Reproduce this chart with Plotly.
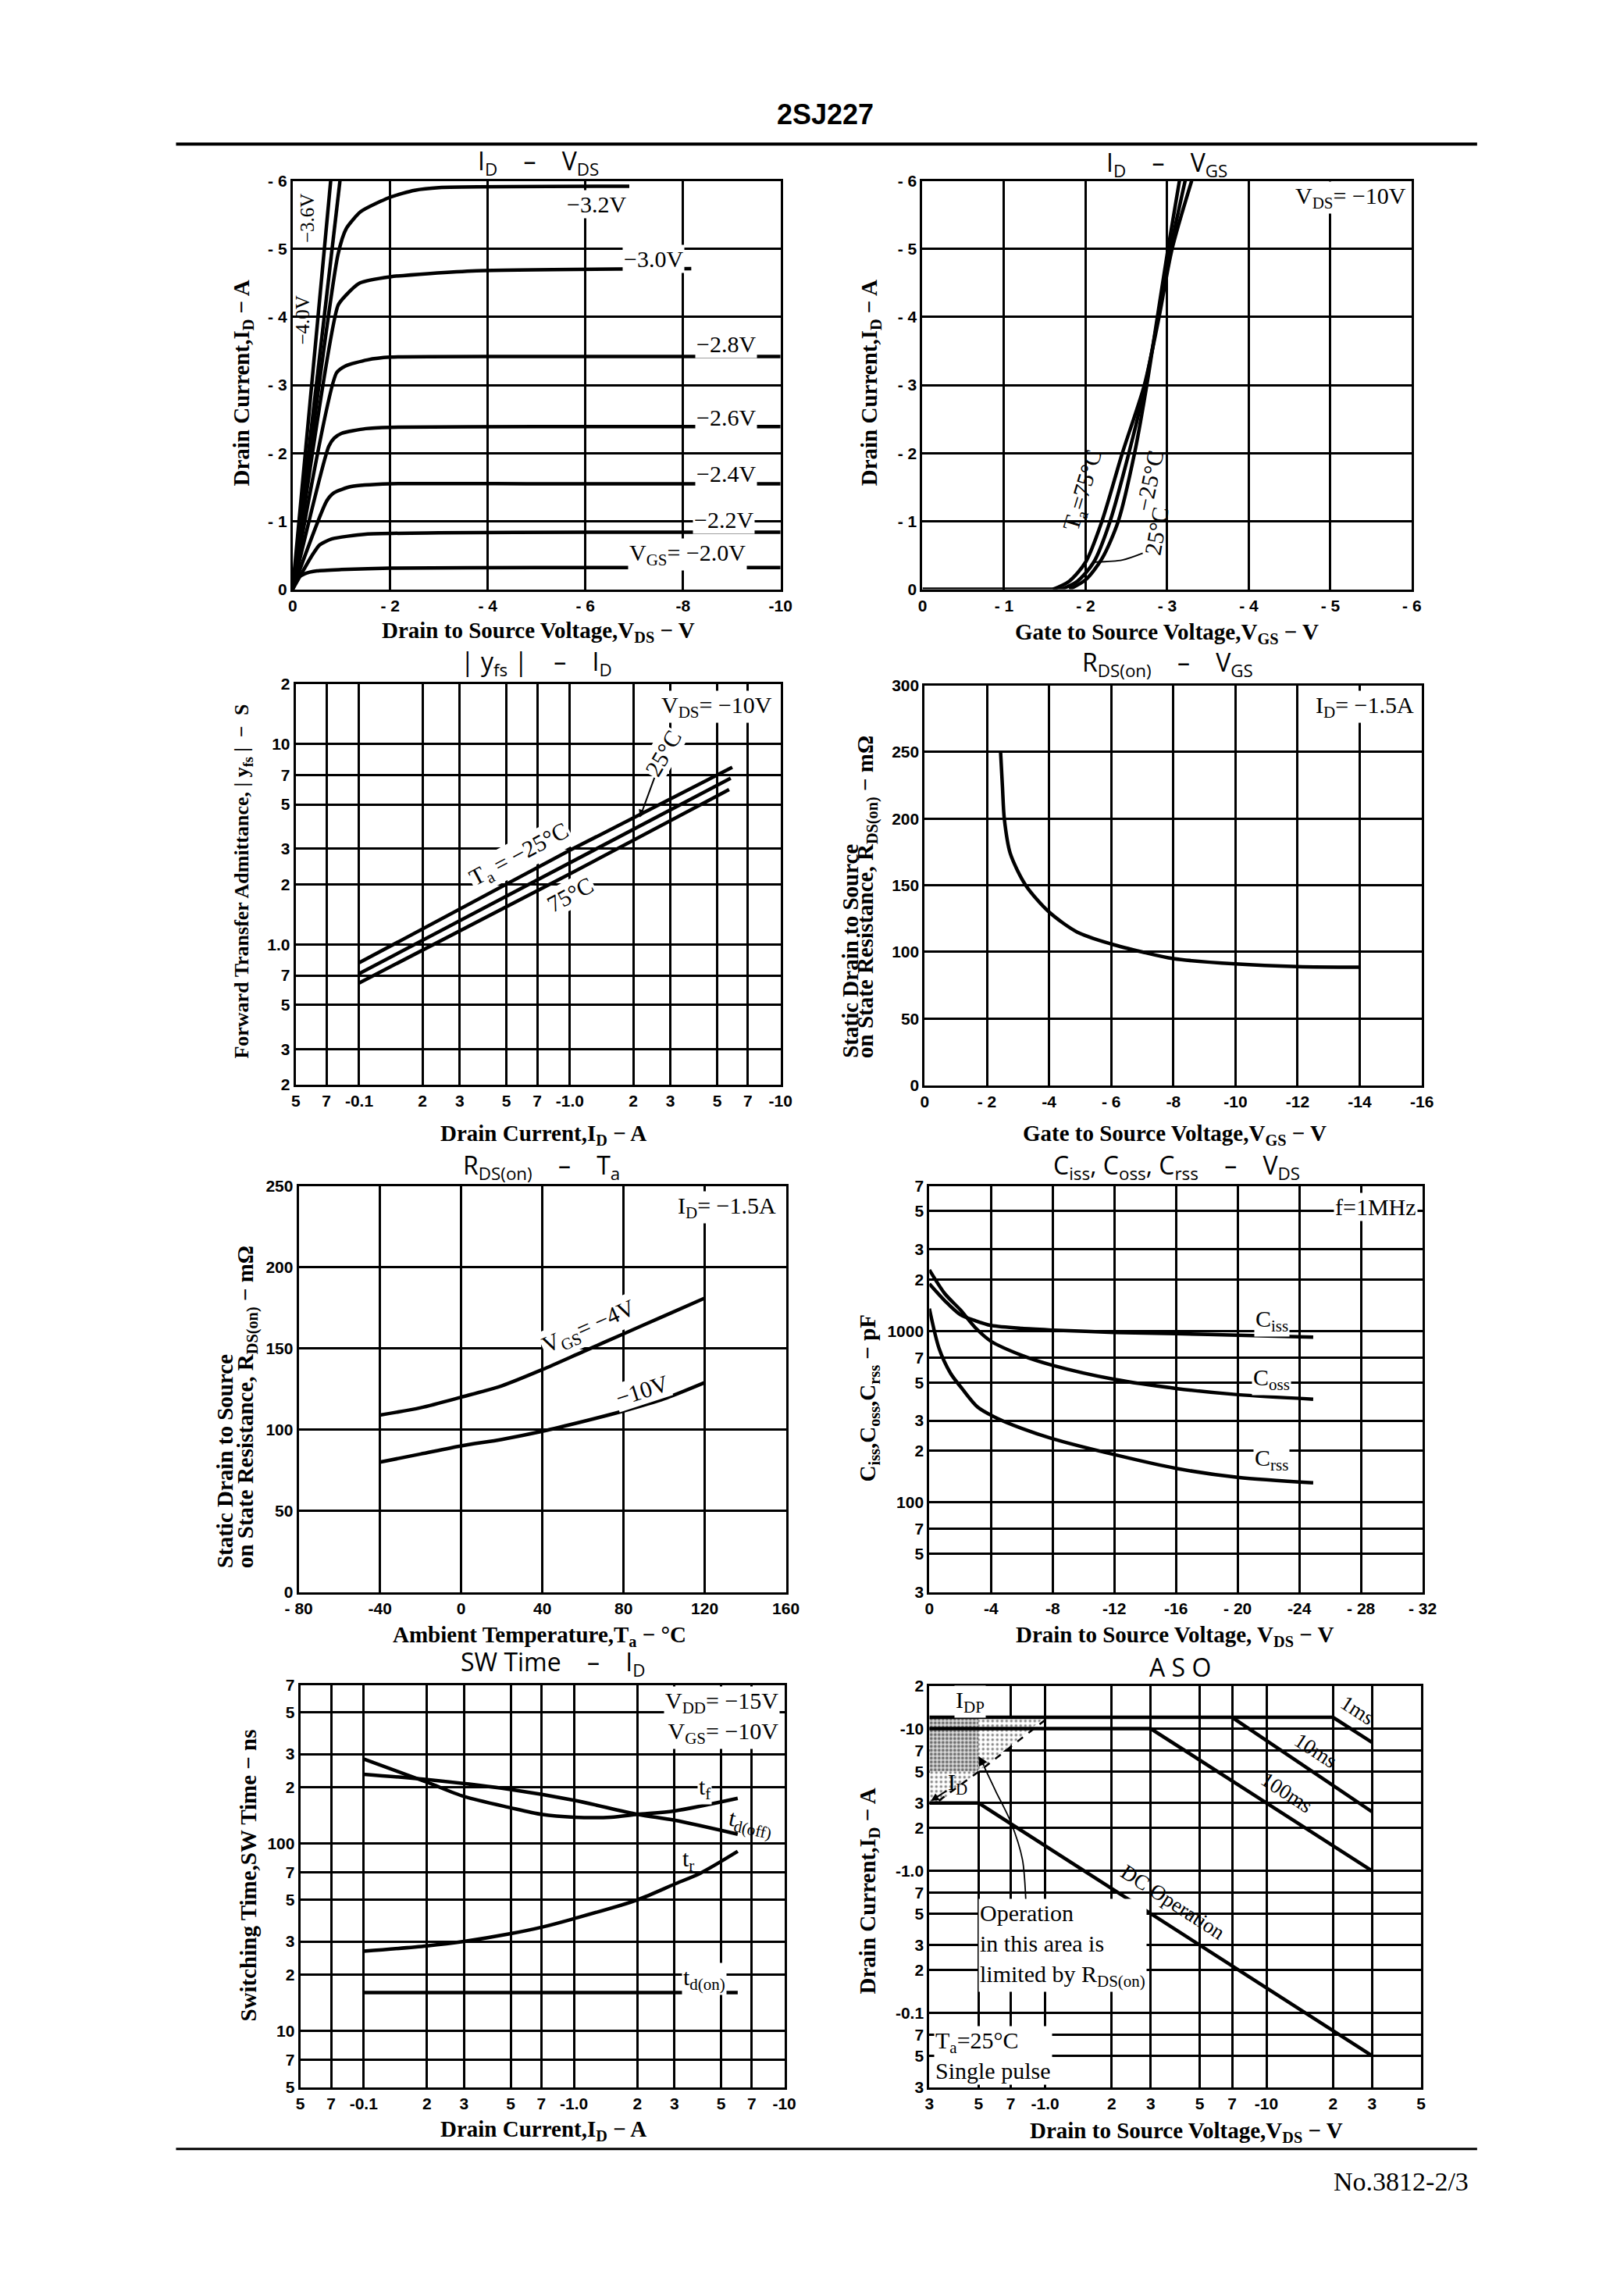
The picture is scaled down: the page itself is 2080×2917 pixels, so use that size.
import math
import plotly.graph_objects as go

W, H = 2080, 2917
OFF = 8                      # default <body> margin of the html page
FW, FH = W - 2 * OFF, H - 2 * OFF
SERIF = "Liberation Serif, DejaVu Serif, serif"
SANS = "Liberation Sans Narrow, Liberation Sans, Arial, sans-serif"
TSANS = "Open Sans, Liberation Sans, sans-serif"

# ================= DATA =================
# Panel 1 : ID - VDS  (x: VDS [V], y: ID [A])
p1_x_20 = [0, -0.12, -0.25, -0.5, -1.0, -2.0, -5.0, -10.0]
p1_y_20 = [0, -0.17, -0.23, -0.27, -0.29, -0.31, -0.32, -0.32]
p1_x_22 = [0, -0.4, -0.55, -0.8, -1.5, -3.0, -6.0, -10.0]
p1_y_22 = [0, -0.5, -0.65, -0.74, -0.81, -0.83, -0.84, -0.84]
p1_x_24 = [0, -0.7, -0.85, -1.2, -2.0, -5.0, -10.0]
p1_y_24 = [0, -1.3, -1.42, -1.51, -1.55, -1.55, -1.55]
p1_x_26 = [0, -0.74, -0.85, -1.0, -1.5, -2.0, -5.0, -10.0]
p1_y_26 = [0, -2.1, -2.22, -2.29, -2.36, -2.38, -2.39, -2.39]
p1_x_28 = [0, -0.9, -1.08, -1.53, -2.0, -5.0, -10.0]
p1_y_28 = [0, -3.18, -3.28, -3.37, -3.41, -3.42, -3.42]
p1_x_30 = [0, -0.93, -1.08, -1.38, -2.0, -3.77, -8.17]
p1_y_30 = [0, -4.17, -4.31, -4.5, -4.59, -4.68, -4.71]
p1_x_32 = [0, -0.93, -1.1, -1.4, -2.0, -2.5, -3.0, -6.9]
p1_y_32 = [0, -4.92, -5.3, -5.55, -5.76, -5.86, -5.9, -5.92]
p1_x_36 = [0, -0.97]
p1_y_36 = [0, -6.0]
p1_x_40 = [0, -0.78]
p1_y_40 = [0, -6.0]
p1_xticks = [0, -2, -4, -6, -8, -10]
p1_xtext = ["0", "- 2", "- 4", "- 6", "-8", "-10"]
p1_yticks = [0, -1, -2, -3, -4, -5, -6]
p1_ytext = ["0", "- 1", "- 2", "- 3", "- 4", "- 5", "- 6"]

# Panel 2 : ID - VGS (VDS=-10V)
p2_x_75 = [-1.6, -1.8, -2.0, -2.2, -2.45, -2.72, -2.9, -3.06, -3.3]
p2_y_75 = [0, -0.12, -0.4, -1.0, -2.0, -3.0, -4.0, -5.0, -6.0]
p2_x_25 = [-1.7, -1.9, -2.1, -2.3, -2.53, -2.73, -2.89, -3.04, -3.22]
p2_y_25 = [0, -0.12, -0.4, -1.0, -2.0, -3.0, -4.0, -5.0, -6.0]
p2_x_m25 = [-1.8, -2.0, -2.2, -2.4, -2.6, -2.75, -2.88, -3.01, -3.15]
p2_y_m25 = [0, -0.14, -0.45, -1.0, -2.0, -3.0, -4.0, -5.0, -6.0]
p2_x_base = [0, -1.7]
p2_y_base = [0, 0]
p2_xticks = [0, -1, -2, -3, -4, -5, -6]
p2_xtext = ["0", "- 1", "- 2", "- 3", "- 4", "- 5", "- 6"]
p2_yticks = [0, -1, -2, -3, -4, -5, -6]
p2_ytext = ["0", "- 1", "- 2", "- 3", "- 4", "- 5", "- 6"]

# Panel 3 : |yfs| - ID  (ID magnitude [A], |yfs| [S])
p3_id_m25 = [0.1, 1.0, 5.9]
p3_y_m25 = [0.81, 2.95, 7.66]
p3_id_25 = [0.1, 1.0, 5.8]
p3_y_25 = [0.715, 2.55, 6.76]
p3_id_75 = [0.1, 1.0, 5.7]
p3_y_75 = [0.642, 2.25, 5.93]
p3_xticks = [0.05, 0.07, 0.1, 0.2, 0.3, 0.5, 0.7, 1, 2, 3, 5, 7, 10]
p3_xtext = ["5", "7", "-0.1", "2", "3", "5", "7", "-1.0", "2", "3", "5", "7", "-10"]
p3_yticks = [0.2, 0.3, 0.5, 0.7, 1, 2, 3, 5, 7, 10, 20]
p3_ytext = ["2", "3", "5", "7", "1.0", "2", "3", "5", "7", "10", "2"]

# Panel 4 : RDS(on) - VGS (ID=-1.5A)
p4_vgs = [-2.44, -2.5, -2.56, -2.75, -3.25, -4.0, -4.9, -6.0, -7.0, -8.0, -10.0, -12.0, -14.0]
p4_r = [250, 224, 200, 174, 150, 130, 115, 106, 100, 95, 91, 89, 88.5]
p4_xticks = [0, -2, -4, -6, -8, -10, -12, -14, -16]
p4_xtext = ["0", "- 2", "-4", "- 6", "-8", "-10", "-12", "-14", "-16"]
p4_yticks = [0, 50, 100, 150, 200, 250, 300]
p4_ytext = ["0", "50", "100", "150", "200", "250", "300"]

# Panel 5 : RDS(on) - Ta
p5_ta = [-40, -20, 0, 20, 40, 60, 80, 100, 120]
p5_r_4v = [109, 113.5, 120, 127, 137, 148, 159, 170, 181]
p5_r_10v = [80, 85, 90, 94, 99, 105, 111.5, 119, 129]
p5_xticks = [-80, -40, 0, 40, 80, 120, 160]
p5_xtext = ["- 80", "-40", "0", "40", "80", "120", "160"]
p5_yticks = [0, 50, 100, 150, 200, 250]
p5_ytext = ["0", "50", "100", "150", "200", "250"]

# Panel 6 : Ciss, Coss, Crss - VDS (f=1MHz)
p6_vds = [0, -1, -2, -3, -4, -6, -8, -12, -16, -20, -24.9]
p6_ciss = [1880, 1500, 1245, 1146, 1077, 1034, 1012, 980, 963, 944, 920]
p6_coss = [2270, 1650, 1330, 1040, 870, 720, 630, 522, 462, 425, 400]
p6_vds_r = [0, -0.63, -1.38, -2.13, -3.13, -4.38, -6, -8, -12, -16, -20, -24.9]
p6_crss = [1350, 790, 565, 460, 360, 310, 270, 235, 190, 158, 140, 130]
p6_xticks = [0, -4, -8, -12, -16, -20, -24, -28, -32]
p6_xtext = ["0", "-4", "-8", "-12", "-16", "- 20", "-24", "- 28", "- 32"]
p6_yticks = [30, 50, 70, 100, 200, 300, 500, 700, 1000, 2000, 3000, 5000, 7000]
p6_ytext = ["3", "5", "7", "100", "2", "3", "5", "7", "1000", "2", "3", "5", "7"]

# Panel 7 : SW Time - ID
p7_id_tf = [0.1, 0.2, 0.3, 0.5, 0.7, 1.0, 1.5, 2.0, 3.0, 6.0]
p7_tf = [282, 212, 178, 155, 143, 138, 138, 143, 149, 174]
p7_id_toff = [0.1, 0.2, 0.5, 1.0, 2.0, 3.0, 6.0]
p7_toff = [234, 219, 194, 170, 143, 133, 112]
p7_id_tr = [0.1, 0.2, 0.3, 0.5, 0.7, 1.0, 2.0, 3.0, 4.0, 6.0]
p7_tr = [26.6, 28.4, 30, 33, 35.7, 39.7, 50, 60.6, 69.5, 90.7]
p7_id_ton = [0.1, 6.0]
p7_ton = [16, 16]
p7_xticks = p3_xticks
p7_xtext = p3_xtext
p7_yticks = [5, 7, 10, 20, 30, 50, 70, 100, 200, 300, 500, 700]
p7_ytext = ["5", "7", "10", "2", "3", "5", "7", "100", "2", "3", "5", "7"]

# Panel 8 : ASO (VDS magnitude [V], ID magnitude [A])
p8_v_1ms = [0.3, 20, 30]
p8_i_1ms = [12, 12, 8]
p8_v_10ms = [7, 30]
p8_i_10ms = [12, 2.6]
p8_v_100ms = [0.3, 3, 30]
p8_i_100ms = [10, 10, 1.0]
p8_v_dc = [0.3, 0.5, 30]
p8_i_dc = [3, 3, 0.05]
p8_v_shade = [0.3, 0.3, 1.0, 0.5, 0.33, 0.3]
p8_i_shade = [3, 12, 12, 5, 3, 3]
p8_v_dark = [0.3, 0.3, 0.5, 0.5, 0.3]
p8_i_dark = [5, 12, 12, 5, 5]
p8_v_rds = [1.0, 0.52, 0.33]
p8_i_rds = [11.5, 5.2, 3.1]
p8_v_ptr = [0.82, 0.79, 0.7, 0.6, 0.53]
p8_i_ptr = [0.57, 1.2, 2.2, 3.6, 5.4]
p8_xticks = [0.3, 0.5, 0.7, 1, 2, 3, 5, 7, 10, 20, 30, 50]
p8_xtext = ["3", "5", "7", "-1.0", "2", "3", "5", "7", "-10", "2", "3", "5"]
p8_yticks = [0.03, 0.05, 0.07, 0.1, 0.2, 0.3, 0.5, 0.7, 1, 2, 3, 5, 7, 10, 20]
p8_ytext = ["3", "5", "7", "-0.1", "2", "3", "5", "7", "-1.0", "2", "3", "5", "7", "-10", "2"]

# ================= LAYOUT HELPERS =================
DXL, DXR = -7, 3   # column offsets (left / right column)
# plot frames in page pixels: left, right, top, bottom
FR = {1: (370 + DXL, 1006 + DXL, 231, 754), 2: (1181 + DXR, 1819 + DXR, 231, 754),
      3: (374 + DXL, 1006 + DXL, 875, 1388), 4: (1184 + DXR, 1832 + DXR, 877, 1389),
      5: (378 + DXL, 1013 + DXL, 1518, 2038), 6: (1190 + DXR, 1833 + DXR, 1518, 2038),
      7: (380 + DXL, 1011 + DXL, 2157, 2672), 8: (1190 + DXR, 1831 + DXR, 2158, 2672)}


def PX(px):
    return (px - OFF) / FW


def PY(py):
    page = (py - 11.5) / 0.992
    return 1 - (page - OFF) / FH


L = math.log10
fig = go.Figure()
layout = dict(width=FW, height=FH, margin=dict(l=0, r=0, t=0, b=0),
              paper_bgcolor="white", plot_bgcolor="white", showlegend=False,
              font=dict(color="black"))
TICKFONT = dict(family=SANS, size=21, color="black", weight="bold")
LBL = 30        # curve-label size
AT = 29         # axis-title size
TT = 32         # panel-title size
NB = "\u00a0"
SEP = NB * 4 + "\u2013" + NB * 4


def axes(i, xr, yr, xt, xtt, yt, ytt, xtype="linear", ytype="linear"):
    x0, x1, y0, y1 = FR[i]
    sfx = "" if i == 1 else str(i)
    common = dict(showgrid=True, gridcolor="black", gridwidth=2.5, showline=True,
                  linecolor="black", linewidth=3, mirror=True, ticks="",
                  zeroline=False, tickfont=TICKFONT, fixedrange=True,
                  tickmode="array")
    layout["xaxis" + sfx] = dict(domain=[PX(x0), PX(x1)], anchor="y" + sfx,
                                 range=xr, type=xtype, tickvals=xt, ticktext=xtt, **common)
    layout["yaxis" + sfx] = dict(domain=[PY(y1), PY(y0)], anchor="x" + sfx,
                                 range=yr, type=ytype, tickvals=yt, ticktext=ytt, **common)


def line(i, x, y, w=4.5, shape="spline", dash="solid", smoothing=0.8):
    sfx = "" if i == 1 else str(i)
    fig.add_trace(go.Scatter(x=x, y=y, mode="lines", xaxis="x" + sfx, yaxis="y" + sfx,
                             line=dict(color="black", width=w, shape=shape, dash=dash,
                                       smoothing=smoothing if shape == "spline" else None),
                             hoverinfo="skip"))


anns = []


def ann(i, text, x, y, size=LBL, family=SERIF, angle=0, xa="center", ya="middle",
        bg=None, align="center", weight="normal"):
    sfx = "" if i == 1 else str(i)
    d = dict(text=text, x=x, y=y, xref="x" + sfx, yref="y" + sfx, showarrow=False,
             textangle=angle, xanchor=xa, yanchor=ya, align=align, borderpad=1,
             font=dict(family=family, size=size, color="black", weight=weight))
    if bg:
        d["bgcolor"] = bg
    anns.append(d)


def pann(text, px, py, size=AT, family=SERIF, angle=0, xa="center", ya="middle",
         weight="bold", align="center"):
    anns.append(dict(text=text, x=PX(px), y=PY(py), xref="paper", yref="paper",
                     showarrow=False, textangle=angle, xanchor=xa, yanchor=ya, align=align,
                     font=dict(family=family, size=size, color="black", weight=weight)))


# ---------- Panel 1 ----------
axes(1, [0, -10], [0, -6], p1_xticks, p1_xtext, p1_yticks, p1_ytext)
for xs, ys in [(p1_x_20, p1_y_20), (p1_x_22, p1_y_22), (p1_x_24, p1_y_24),
               (p1_x_26, p1_y_26), (p1_x_28, p1_y_28), (p1_x_30, p1_y_30),
               (p1_x_32, p1_y_32)]:
    line(1, xs, ys, smoothing=0.6)
line(1, p1_x_36, p1_y_36, shape="linear")
line(1, p1_x_40, p1_y_40, shape="linear")
ann(1, "\u22123.2V", -6.23, -5.66, bg="white")
ann(1, "\u22123.0V", -7.39, -4.85, bg="white")
ann(1, "\u22122.8V", -8.88, -3.6, bg="white")
ann(1, "\u22122.6V", -8.88, -2.53, bg="white")
ann(1, "\u22122.4V", -8.88, -1.70, bg="white")
ann(1, "\u22122.2V", -8.84, -1.02, bg="white")
ann(1, "V<sub>GS</sub>= \u22122.0V", -8.1, -0.51, bg="white")
ann(1, "\u22123.6V", -0.3, -5.45, angle=-90, size=25)
ann(1, "\u22124.0V", -0.2, -3.95, angle=-90, size=25)

# ---------- Panel 2 ----------
axes(2, [0, -6], [0, -6], p2_xticks, p2_xtext, p2_yticks, p2_ytext)
line(2, p2_x_base, p2_y_base, shape="linear")
line(2, p2_x_75, p2_y_75)
line(2, p2_x_25, p2_y_25)
line(2, p2_x_m25, p2_y_m25)
line(2, [-2.12, -2.45, -2.7], [-0.4, -0.43, -0.53], w=2)
ann(2, "V<sub>DS</sub>= \u221210V", -5.95, -5.75, xa="right", bg="white")
ann(2, "T<sub>a</sub>=75\u00b0C", -1.98, -1.45, angle=-73)
ann(2, "\u221225\u00b0C", -2.78, -1.6, angle=-78)
ann(2, "25\u00b0C", -2.87, -0.86, angle=-80)

# ---------- Panel 3 ----------
axes(3, [L(0.05), L(10)], [L(0.2), L(20)], p3_xticks, p3_xtext, p3_yticks, p3_ytext,
     "log", "log")
line(3, p3_id_m25, p3_y_m25, shape="linear")
line(3, p3_id_25, p3_y_25, shape="linear")
line(3, p3_id_75, p3_y_75, shape="linear")
ann(3, "V<sub>DS</sub>= \u221210V", L(9.3), L(15.4), xa="right", bg="white")
ann(3, "T<sub>a</sub> = \u221225\u00b0C", L(0.58), L(2.8), angle=-28, bg="white")
ann(3, "75\u00b0C", L(1.0), L(1.78), angle=-28, bg="white")
anns.append(dict(text="25\u00b0C", x=L(2.15), y=L(4.3), xref="x3", yref="y3",
                 showarrow=True, arrowhead=2, arrowsize=1, arrowwidth=2, arrowcolor="black",
                 ax=30, ay=-82, textangle=-60, bgcolor="white",
                 font=dict(family=SERIF, size=LBL, color="black")))

# ---------- Panel 4 ----------
axes(4, [0, -16], [0, 300], p4_xticks, p4_xtext, p4_yticks, p4_ytext)
line(4, p4_vgs, p4_r)
ann(4, "I<sub>D</sub>= \u22121.5A", -15.8, 284, xa="right", bg="white")

# ---------- Panel 5 ----------
axes(5, [-80, 160], [0, 250], p5_xticks, p5_xtext, p5_yticks, p5_ytext)
line(5, p5_ta, p5_r_4v)
line(5, p5_ta, p5_r_10v)
ann(5, "I<sub>D</sub>= \u22121.5A", 156, 237, xa="right", bg="white")
ann(5, "V<sub>GS</sub>= \u22124V", 63, 163, angle=-24, bg="white")
ann(5, "\u221210V", 89, 124, angle=-18, bg="white")

# ---------- Panel 6 ----------
axes(6, [0, -32], [L(30), L(7000)], p6_xticks, p6_xtext, p6_yticks, p6_ytext,
     "linear", "log")
line(6, p6_vds, p6_ciss)
line(6, p6_vds, p6_coss)
line(6, p6_vds_r, p6_crss)
ann(6, "f=1MHz", -31.7, L(5300), xa="right", bg="white")
ann(6, "C<sub>iss</sub>", -22.2, L(1150), bg="white")
ann(6, "C<sub>oss</sub>", -22.2, L(525), bg="white")
ann(6, "C<sub>rss</sub>", -22.2, L(178), bg="white")

# ---------- Panel 7 ----------
axes(7, [L(0.05), L(10)], [L(5), L(700)], p7_xticks, p7_xtext, p7_yticks, p7_ytext,
     "log", "log")
line(7, p7_id_tf, p7_tf)
line(7, p7_id_toff, p7_toff)
line(7, p7_id_tr, p7_tr)
line(7, p7_id_ton, p7_ton, shape="linear")
ann(7, "V<sub>DD</sub>= \u221215V<br>V<sub>GS</sub>= \u221210V", L(9.5), L(470), xa="right",
    align="right", bg="white")
ann(7, "t<sub>f</sub>", L(4.17), L(196), bg="white")
ann(7, "t<sub>d(off)</sub>", L(6.9), L(128), angle=12)
ann(7, "t<sub>r</sub>", L(3.5), L(81))
ann(7, "t<sub>d(on)</sub>", L(4.17), L(19), bg="white")

# ---------- Panel 8 ----------
axes(8, [L(0.3), L(50)], [L(0.03), L(20)], p8_xticks, p8_xtext, p8_yticks, p8_ytext,
     "log", "log")
fig.add_trace(go.Scatter(x=p8_v_shade, y=p8_i_shade, mode="lines", fill="toself",
                         xaxis="x8", yaxis="y8", line=dict(width=0, color="rgba(0,0,0,0)"),
                         fillcolor="rgba(0,0,0,0)",
                         fillpattern=dict(shape=".", fgcolor="black", bgcolor="white",
                                          size=6, solidity=0.25), hoverinfo="skip"))
fig.add_trace(go.Scatter(x=p8_v_dark, y=p8_i_dark, mode="lines", fill="toself",
                         xaxis="x8", yaxis="y8", line=dict(width=0, color="rgba(0,0,0,0)"),
                         fillcolor="rgba(0,0,0,0)",
                         fillpattern=dict(shape=".", fgcolor="black", bgcolor="#dddddd",
                                          size=5, solidity=0.45), hoverinfo="skip"))
line(8, p8_v_1ms, p8_i_1ms, shape="linear")
line(8, p8_v_10ms, p8_i_10ms, shape="linear")
line(8, p8_v_100ms, p8_i_100ms, shape="linear")
line(8, p8_v_dc, p8_i_dc, shape="linear")
line(8, p8_v_rds, p8_i_rds, w=2.5, shape="linear", dash="dash")
line(8, p8_v_ptr, p8_i_ptr, w=1.8)
anns.append(dict(text="", x=L(0.5), y=L(6.4), xref="x8", yref="y8", showarrow=True,
                 arrowhead=2, arrowsize=1.2, arrowwidth=2, arrowcolor="black",
                 ax=8, ay=14))
ann(8, "I<sub>DP</sub>", L(0.46), L(15.5), bg="white")
anns.append(dict(text="I<sub>D</sub>", x=L(0.305), y=L(3.1), xref="x8", yref="y8",
                 showarrow=True, arrowhead=2, arrowsize=1, arrowwidth=2,
                 arrowcolor="black", ax=34, ay=-22,
                 font=dict(family=SERIF, size=LBL, color="black")))
ann(8, "1ms", L(25.8), L(13.4), angle=33, size=27)
ann(8, "10ms", L(16.8), L(7.0), angle=33, size=27)
ann(8, "100ms", L(12.3), L(3.55), angle=33, size=27)
ann(8, "DC Operation", L(3.8), L(0.6), angle=33, size=27)
ann(8, "Operation<br>in this area is<br>limited by R<sub>DS(on)</sub>", L(0.5), L(0.3),
    xa="left", align="left", bg="white")
ann(8, "T<sub>a</sub>=25\u00b0C<br>Single pulse", L(0.315), L(0.05), xa="left",
    align="left", bg="white")

# ---------- Panel titles ----------
def ptitle(text, px, py):
    pann(text, px, py, size=TT, family=TSANS, weight="normal")


ptitle("I<sub>D</sub>" + SEP + "V<sub>DS</sub>", 690 + DXL, 207)
ptitle("I<sub>D</sub>" + SEP + "V<sub>GS</sub>", 1500 + DXR, 209)
ptitle("| y<sub>fs</sub> |" + SEP + "I<sub>D</sub>", 688 + DXL, 848)
ptitle("R<sub>DS(on)</sub>" + SEP + "V<sub>GS</sub>", 1501 + DXR, 849)
ptitle("R<sub>DS(on)</sub>" + SEP + "T<sub>a</sub>", 694 + DXL, 1493)
ptitle("C<sub>iss</sub>, C<sub>oss</sub>, C<sub>rss</sub>" + SEP + "V<sub>DS</sub>",
       1512 + DXR, 1493)
ptitle("SW Time" + SEP + "I<sub>D</sub>", 709 + DXL, 2129)
ptitle("A S O", 1517 + DXR, 2134)

# ---------- Axis titles ----------
pann("Drain to Source Voltage,V<sub>DS</sub> \u2212 V", 690 + DXL, 808)
pann("Drain Current,I<sub>D</sub> \u2212 A", 305 + DXL, 490, angle=-90)
pann("Gate to Source Voltage,V<sub>GS</sub> \u2212 V", 1500 + DXR, 810)
pann("Drain Current,I<sub>D</sub> \u2212 A", 1113 + DXR, 490, angle=-90)
pann("Drain Current,I<sub>D</sub> \u2212 A", 697 + DXL, 1452)
pann("Forward Transfer Admittance, | y<sub>fs</sub> |  \u2212  S", 305 + DXL, 1128, size=26,
     angle=-90)
pann("Gate to Source Voltage,V<sub>GS</sub> \u2212 V", 1510 + DXR, 1452)
pann("Static Drain to Source", 1087 + DXR, 1356, angle=-90, ya="bottom")
pann("on State Resistance, R<sub>DS(on)</sub> \u2212 m\u03a9", 1108 + DXR, 1356, angle=-90,
     ya="bottom")
pann("Ambient Temperature,T<sub>a</sub> \u2212 \u00b0C", 692 + DXL, 2094)
pann("Static Drain to Source", 281 + DXL, 2009, angle=-90, ya="bottom")
pann("on State Resistance, R<sub>DS(on)</sub> \u2212 m\u03a9", 310 + DXL, 2009, angle=-90,
     ya="bottom")
pann("Drain to Source Voltage, V<sub>DS</sub> \u2212 V", 1510 + DXR, 2094)
pann("C<sub>iss</sub>,C<sub>oss</sub>,C<sub>rss</sub> \u2212 pF", 1111 + DXR, 1790, angle=-90)
pann("Drain Current,I<sub>D</sub> \u2212 A", 697 + DXL, 2727)
pann("Switching Time,SW Time \u2212 ns", 312 + DXL, 2401, angle=-90)
pann("Drain to Source Voltage,V<sub>DS</sub> \u2212 V", 1525 + DXR, 2729)
pann("Drain Current,I<sub>D</sub> \u2212 A", 1111 + DXR, 2421, angle=-90)

# ---------- Header / footer ----------
pann("2SJ227", 1057, 146, size=36, family=SANS, weight="bold")
pann("No.3812-2/3", 1898, 2793, size=34, family=SERIF, xa="right", weight="normal")
layout["shapes"] = [
    dict(type="line", xref="paper", yref="paper", x0=PX(211), x1=PX(1907),
         y0=PY(184), y1=PY(184), line=dict(color="black", width=4)),
    dict(type="line", xref="paper", yref="paper", x0=PX(211), x1=PX(1907),
         y0=PY(2751), y1=PY(2751), line=dict(color="black", width=3)),
]
layout["annotations"] = anns
fig.update_layout(**layout)
fig.write_html("out.html")
